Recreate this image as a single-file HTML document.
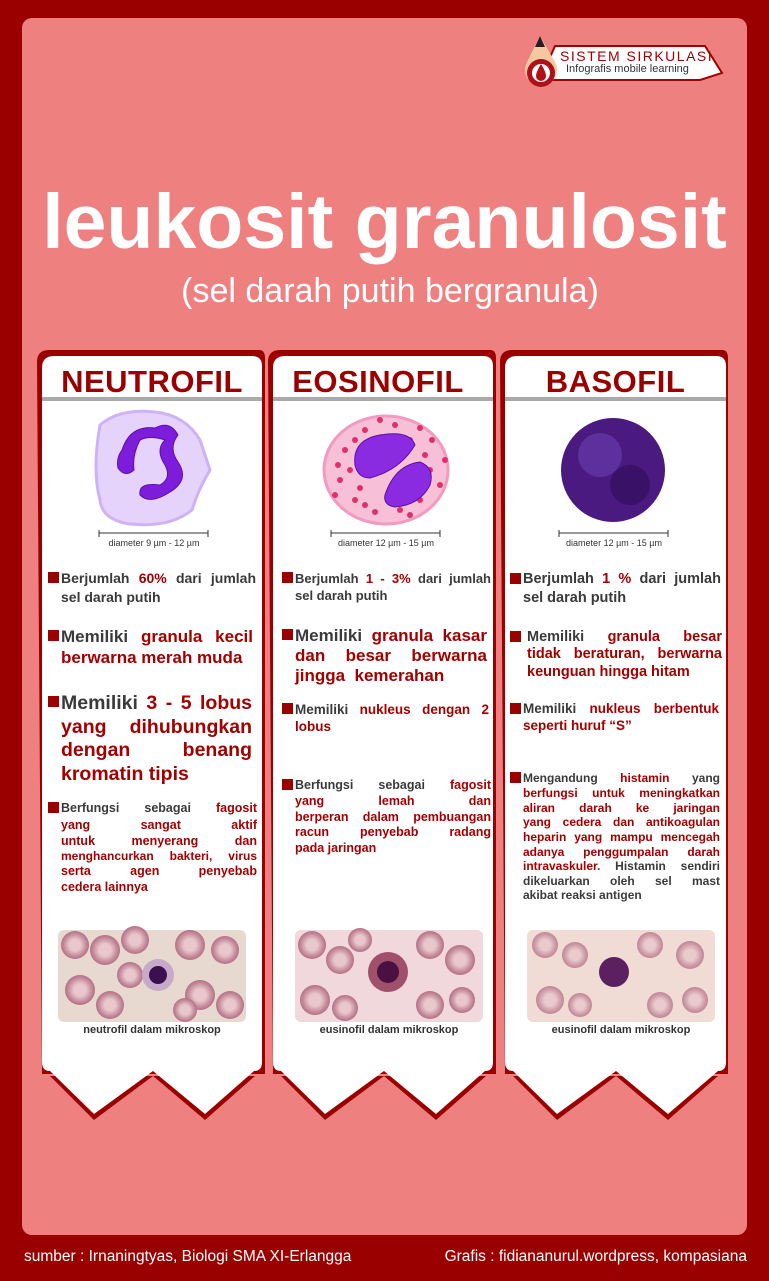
<!DOCTYPE html>
<html><head><meta charset="utf-8"><style>
*{margin:0;padding:0;box-sizing:border-box}
body{width:769px;height:1281px;background:#9b0000;position:relative;overflow:hidden;font-family:"Liberation Sans",sans-serif}
.abs{position:absolute}
.ln{position:absolute;white-space:nowrap;font-weight:bold;color:#3a3a3a;text-align:justify;text-align-last:justify;line-height:1}
.ln.l{text-align-last:left}
.r{color:#a30000}
.sq{position:absolute;width:11px;height:11px;background:#9b0000}
.hd{position:absolute;font-weight:900;color:#9b0000;font-size:31px;text-align:center;line-height:1;letter-spacing:0.5px}
.cap{position:absolute;font-size:11px;font-weight:bold;color:#333;text-align:center;width:188px}
.dia{position:absolute;font-size:9px;color:#333;text-align:center;width:110px}
</style></head><body>
<svg class="abs" style="left:0;top:0" width="769" height="1281">
<rect x="22" y="18" width="725" height="1217" rx="10" fill="#ef8080"/>
<g>
<path d="M37 362 Q37 350 49 350 L259 350 Q265 350 265 358 L265 1074 L42 1074 Z" fill="#9b0000"/>
<path d="M50 1076 L94 1120 L153 1076 L205 1120 L255 1076 Z" fill="#9b0000"/>
<path d="M42 368 Q42 356 54 356 L252 356 Q262 356 262 366 L262 1062 Q262 1071 254 1071 L205 1114 L153 1071 L94 1114 L50 1071 Q42 1071 42 1062 Z" fill="#fff"/>
<rect x="42" y="397" width="220" height="4" fill="#aaa"/>
</g>
<g>
<path d="M268 362 Q268 350 280 350 L490 350 Q496 350 496 358 L496 1074 L273 1074 Z" fill="#9b0000"/>
<path d="M281 1076 L325 1120 L384 1076 L436 1120 L486 1076 Z" fill="#9b0000"/>
<path d="M273 368 Q273 356 285 356 L483 356 Q493 356 493 366 L493 1062 Q493 1071 485 1071 L436 1114 L384 1071 L325 1114 L281 1071 Q273 1071 273 1062 Z" fill="#fff"/>
<rect x="273" y="397" width="220" height="4" fill="#aaa"/>
</g>
<g>
<path d="M500 362 Q500 350 512 350 L722 350 Q728 350 728 358 L728 1074 L505 1074 Z" fill="#9b0000"/>
<path d="M513 1076 L557 1120 L616 1076 L668 1120 L718 1076 Z" fill="#9b0000"/>
<path d="M505 368 Q505 356 517 356 L716 356 Q726 356 726 366 L726 1062 Q726 1071 718 1071 L668 1114 L616 1071 L557 1114 L513 1071 Q505 1071 505 1062 Z" fill="#fff"/>
<rect x="505" y="397" width="221" height="4" fill="#aaa"/>
</g>
<g>
<path d="M540 80 L700 80 L722 73 L705 46 L555 46 Z" fill="#fff" stroke="#a00000" stroke-width="2"/>
<path d="M540 36 L527 62 A16 16 0 1 0 555 62 Z" fill="#f5c9a0"/>
<path d="M540 36 L535 47 L545 47 Z" fill="#2a1a2a"/>
<circle cx="541" cy="73" r="14" fill="#b0101a"/>
<circle cx="541" cy="73" r="9" fill="#fff"/>
<path d="M541 64 Q536 72 536 76 A5 5 0 0 0 546 76 Q546 72 541 64Z" fill="#b0101a"/>
</g>
<g>
<path d="M100 425 Q120 408 155 412 Q185 415 200 440 L210 470 Q198 490 192 510 Q170 528 130 524 Q102 520 100 500 Q92 470 100 425Z" fill="#e6d3fc" stroke="#cfb2f5" stroke-width="3"/>
<path d="M122 450 Q130 425 155 428 Q170 420 178 435 Q168 448 178 462 Q190 480 170 492 Q150 505 140 495 Q138 482 160 485 Q172 478 165 465 Q155 450 165 440 Q150 435 140 440 Q132 455 134 470 Q125 478 118 468 Q116 458 122 450Z" fill="#7d1ddb" stroke="#5a0fa8" stroke-width="1"/>
</g>
<g>
<ellipse cx="386" cy="470" rx="62" ry="54" fill="#f7c0d6" stroke="#f29ac0" stroke-width="3"/>
<g fill="#e0306a">
<circle cx="345" cy="450" r="3"/><circle cx="355" cy="440" r="3"/><circle cx="365" cy="430" r="3"/><circle cx="410" cy="440" r="3"/><circle cx="425" cy="455" r="3"/><circle cx="430" cy="470" r="3"/><circle cx="420" cy="500" r="3"/><circle cx="400" cy="510" r="3"/><circle cx="375" cy="512" r="3"/><circle cx="355" cy="500" r="3"/><circle cx="340" cy="480" r="3"/><circle cx="350" cy="470" r="3"/><circle cx="395" cy="425" r="3"/><circle cx="380" cy="420" r="3"/><circle cx="440" cy="485" r="3"/><circle cx="338" cy="465" r="3"/><circle cx="360" cy="488" r="3"/><circle cx="412" cy="470" r="3"/><circle cx="388" cy="500" r="3"/><circle cx="432" cy="440" r="3"/>
<circle cx="335" cy="495" r="3"/><circle cx="445" cy="460" r="3"/><circle cx="365" cy="505" r="3"/><circle cx="410" cy="515" r="3"/><circle cx="420" cy="428" r="3"/>
</g>
<path d="M355 465 Q352 440 380 435 Q410 430 415 445 Q400 470 370 478 Q358 478 355 465Z" fill="#8a2be2" stroke="#5a0fa8"/>
<path d="M385 495 Q395 465 420 462 Q435 468 430 485 Q420 505 395 507 Q383 505 385 495Z" fill="#8a2be2" stroke="#5a0fa8"/>
</g>
<g>
<circle cx="613" cy="470" r="52" fill="#4a1a80"/>
<circle cx="600" cy="455" r="22" fill="#6b3fb0" opacity="0.6"/>
<circle cx="630" cy="485" r="20" fill="#2e0b55" opacity="0.6"/>
</g>
<g stroke="#333" stroke-width="1">
<path d="M99 533 L208 533 M99 530 V537 M208 530 V537"/>
<path d="M331 533 L440 533 M331 530 V537 M440 530 V537"/>
<path d="M559 533 L668 533 M559 530 V537 M668 530 V537"/>
</g>
<defs>
<radialGradient id="rbc" cx="50%" cy="50%" r="50%"><stop offset="40%" stop-color="#e8c8cc"/><stop offset="80%" stop-color="#c58a9a"/><stop offset="100%" stop-color="#b47088"/></radialGradient>
</defs>
<g>
<rect x="58" y="930" width="188" height="92" rx="6" fill="#e8d9d0"/>
<g fill="url(#rbc)"><circle cx="75" cy="945" r="14"/><circle cx="105" cy="950" r="15"/><circle cx="135" cy="940" r="14"/><circle cx="190" cy="945" r="15"/><circle cx="225" cy="950" r="14"/><circle cx="80" cy="990" r="15"/><circle cx="110" cy="1005" r="14"/><circle cx="200" cy="995" r="15"/><circle cx="230" cy="1005" r="14"/><circle cx="130" cy="975" r="13"/><circle cx="185" cy="1010" r="12"/></g>
<circle cx="158" cy="975" r="16" fill="#c9a9c9"/><circle cx="158" cy="975" r="9" fill="#3a1050"/>
</g>
<g>
<rect x="295" y="930" width="188" height="92" rx="6" fill="#f0d8dc"/>
<g fill="url(#rbc)"><circle cx="312" cy="945" r="14"/><circle cx="340" cy="960" r="14"/><circle cx="430" cy="945" r="14"/><circle cx="460" cy="960" r="15"/><circle cx="315" cy="1000" r="15"/><circle cx="345" cy="1008" r="13"/><circle cx="430" cy="1005" r="14"/><circle cx="462" cy="1000" r="13"/><circle cx="360" cy="940" r="12"/></g>
<circle cx="388" cy="972" r="20" fill="#a0506a"/><circle cx="388" cy="972" r="11" fill="#4a1040"/>
</g>
<g>
<rect x="527" y="930" width="188" height="92" rx="6" fill="#f0dcd4"/>
<g fill="url(#rbc)" opacity="0.8"><circle cx="545" cy="945" r="13"/><circle cx="575" cy="955" r="13"/><circle cx="650" cy="945" r="13"/><circle cx="690" cy="955" r="14"/><circle cx="550" cy="1000" r="14"/><circle cx="580" cy="1005" r="12"/><circle cx="660" cy="1005" r="13"/><circle cx="695" cy="1000" r="13"/></g>
<circle cx="614" cy="972" r="15" fill="#5a2060"/>
</g>
</svg>

<div class="abs" style="left:560px;top:49px;font-size:14px;color:#a00000;letter-spacing:1.5px;line-height:1">SISTEM SIRKULASI</div>
<div class="abs" style="left:566px;top:64px;font-size:11px;color:#333;line-height:1">Infografis mobile learning</div>

<div class="abs" style="left:0;width:769px;top:184px;text-align:center;font-size:77px;font-weight:bold;color:#fff;line-height:1;letter-spacing:0px">leukosit granulosit</div>
<div class="abs" style="left:0;width:780px;top:274px;text-align:center;font-size:34px;color:#fff;line-height:1">(sel darah putih bergranula)</div>

<div class="hd" style="left:42px;width:220px;top:366px">NEUTROFIL</div>
<div class="hd" style="left:273px;width:210px;top:366px">EOSINOFIL</div>
<div class="hd" style="left:505px;width:221px;top:366px">BASOFIL</div>

<div class="dia" style="left:99px;top:538px">diameter 9 µm - 12 µm</div>
<div class="dia" style="left:331px;top:538px">diameter 12 µm - 15 µm</div>
<div class="dia" style="left:559px;top:538px">diameter 12 µm - 15 µm</div>

<div>
<div class="sq" style="left:48px;top:572px"></div>
<div class="ln" style="left:61px;width:195px;top:571px;font-size:14px">Berjumlah <span class="r">60%</span> dari jumlah</div>
<div class="ln l" style="left:61px;width:195px;top:590px;font-size:14px">sel darah putih</div>
<div class="sq" style="left:48px;top:630px"></div>
<div class="ln" style="left:61px;width:192px;top:628px;font-size:17px">Memiliki <span class="r">granula kecil</span></div>
<div class="ln l r" style="left:61px;width:192px;top:649px;font-size:17px">berwarna merah muda</div>
<div class="sq" style="left:48px;top:696px"></div>
<div class="ln" style="left:61px;width:191px;top:694px;font-size:19.5px">Memiliki <span class="r">3 - 5 lobus</span></div>
<div class="ln r" style="left:61px;width:191px;top:718px;font-size:19.5px">yang dihubungkan</div>
<div class="ln r" style="left:61px;width:191px;top:741px;font-size:19.5px">dengan benang</div>
<div class="ln l r" style="left:61px;width:191px;top:765px;font-size:19.5px">kromatin tipis</div>
<div class="sq" style="left:48px;top:802px"></div>
<div class="ln" style="left:61px;width:196px;top:802px;font-size:12.5px">Berfungsi sebagai <span class="r">fagosit</span></div>
<div class="ln r" style="left:61px;width:196px;top:819px;font-size:12.5px">yang sangat aktif</div>
<div class="ln r" style="left:61px;width:196px;top:835px;font-size:12.5px">untuk menyerang dan</div>
<div class="ln r" style="left:61px;width:196px;top:850px;font-size:12px">menghancurkan bakteri, virus</div>
<div class="ln r" style="left:61px;width:196px;top:865px;font-size:12.5px">serta agen penyebab</div>
<div class="ln l r" style="left:61px;width:196px;top:881px;font-size:12.5px">cedera lainnya</div>
</div>

<div>
<div class="sq" style="left:282px;top:572px"></div>
<div class="ln" style="left:295px;width:196px;top:572px;font-size:13px">Berjumlah <span class="r">1 - 3%</span> dari jumlah</div>
<div class="ln l" style="left:295px;width:196px;top:589px;font-size:13px">sel darah putih</div>
<div class="sq" style="left:282px;top:629px"></div>
<div class="ln" style="left:295px;width:192px;top:627px;font-size:17px">Memiliki <span class="r">granula kasar</span></div>
<div class="ln r" style="left:295px;width:192px;top:647px;font-size:17px">dan besar berwarna</div>
<div class="ln l r" style="left:295px;width:192px;top:667px;font-size:17px">jingga &nbsp;kemerahan</div>
<div class="sq" style="left:282px;top:703px"></div>
<div class="ln" style="left:295px;width:194px;top:703px;font-size:13.5px">Memiliki <span class="r">nukleus dengan 2</span></div>
<div class="ln l r" style="left:295px;width:194px;top:720px;font-size:13.5px">lobus</div>
<div class="sq" style="left:282px;top:779px"></div>
<div class="ln" style="left:295px;width:196px;top:779px;font-size:12.5px">Berfungsi sebagai <span class="r">fagosit</span></div>
<div class="ln r" style="left:295px;width:196px;top:795px;font-size:12.5px">yang lemah dan</div>
<div class="ln r" style="left:295px;width:196px;top:811px;font-size:12.5px">berperan dalam pembuangan</div>
<div class="ln r" style="left:295px;width:196px;top:826px;font-size:12.5px">racun penyebab radang</div>
<div class="ln l r" style="left:295px;width:196px;top:842px;font-size:12.5px">pada jaringan</div>
</div>

<div>
<div class="sq" style="left:510px;top:573px"></div>
<div class="ln" style="left:523px;width:198px;top:572px;font-size:14.5px">Berjumlah <span class="r">1 %</span> dari jumlah</div>
<div class="ln l" style="left:523px;width:198px;top:591px;font-size:14.5px">sel darah putih</div>
<div class="sq" style="left:510px;top:631px"></div>
<div class="ln" style="left:527px;width:195px;top:630px;font-size:14.5px">Memiliki <span class="r">granula besar</span></div>
<div class="ln r" style="left:527px;width:195px;top:647px;font-size:14.5px">tidak beraturan, berwarna</div>
<div class="ln l r" style="left:527px;width:195px;top:665px;font-size:14.5px">keunguan hingga hitam</div>
<div class="sq" style="left:510px;top:703px"></div>
<div class="ln" style="left:523px;width:196px;top:702px;font-size:13.5px">Memiliki <span class="r">nukleus berbentuk</span></div>
<div class="ln l r" style="left:523px;width:196px;top:719px;font-size:13.5px">seperti huruf “S”</div>
<div class="sq" style="left:510px;top:772px"></div>
<div class="ln" style="left:523px;width:197px;top:772px;font-size:12px">Mengandung <span class="r">histamin</span> yang</div>
<div class="ln r" style="left:523px;width:197px;top:787px;font-size:12px">berfungsi untuk meningkatkan</div>
<div class="ln r" style="left:523px;width:197px;top:802px;font-size:12px">aliran darah ke jaringan</div>
<div class="ln r" style="left:523px;width:197px;top:816px;font-size:12px">yang cedera dan antikoagulan</div>
<div class="ln r" style="left:523px;width:197px;top:831px;font-size:12px">heparin yang mampu mencegah</div>
<div class="ln r" style="left:523px;width:197px;top:846px;font-size:12px">adanya penggumpalan darah</div>
<div class="ln" style="left:523px;width:197px;top:860px;font-size:12px"><span class="r">intravaskuler</span>. Histamin sendiri</div>
<div class="ln" style="left:523px;width:197px;top:875px;font-size:12px">dikeluarkan oleh sel mast</div>
<div class="ln l" style="left:523px;width:197px;top:889px;font-size:12px">akibat reaksi antigen</div>
</div>

<div class="cap" style="left:58px;top:1024px">neutrofil dalam mikroskop</div>
<div class="cap" style="left:295px;top:1024px">eusinofil dalam mikroskop</div>
<div class="cap" style="left:527px;top:1024px">eusinofil dalam mikroskop</div>

<div class="abs" style="left:24px;top:1248px;font-size:15.5px;color:#fff">sumber : Irnaningtyas, Biologi SMA XI-Erlangga</div>
<div class="abs" style="right:22px;top:1248px;font-size:15.5px;color:#fff">Grafis : fidiananurul.wordpress, kompasiana</div>
</body></html>
